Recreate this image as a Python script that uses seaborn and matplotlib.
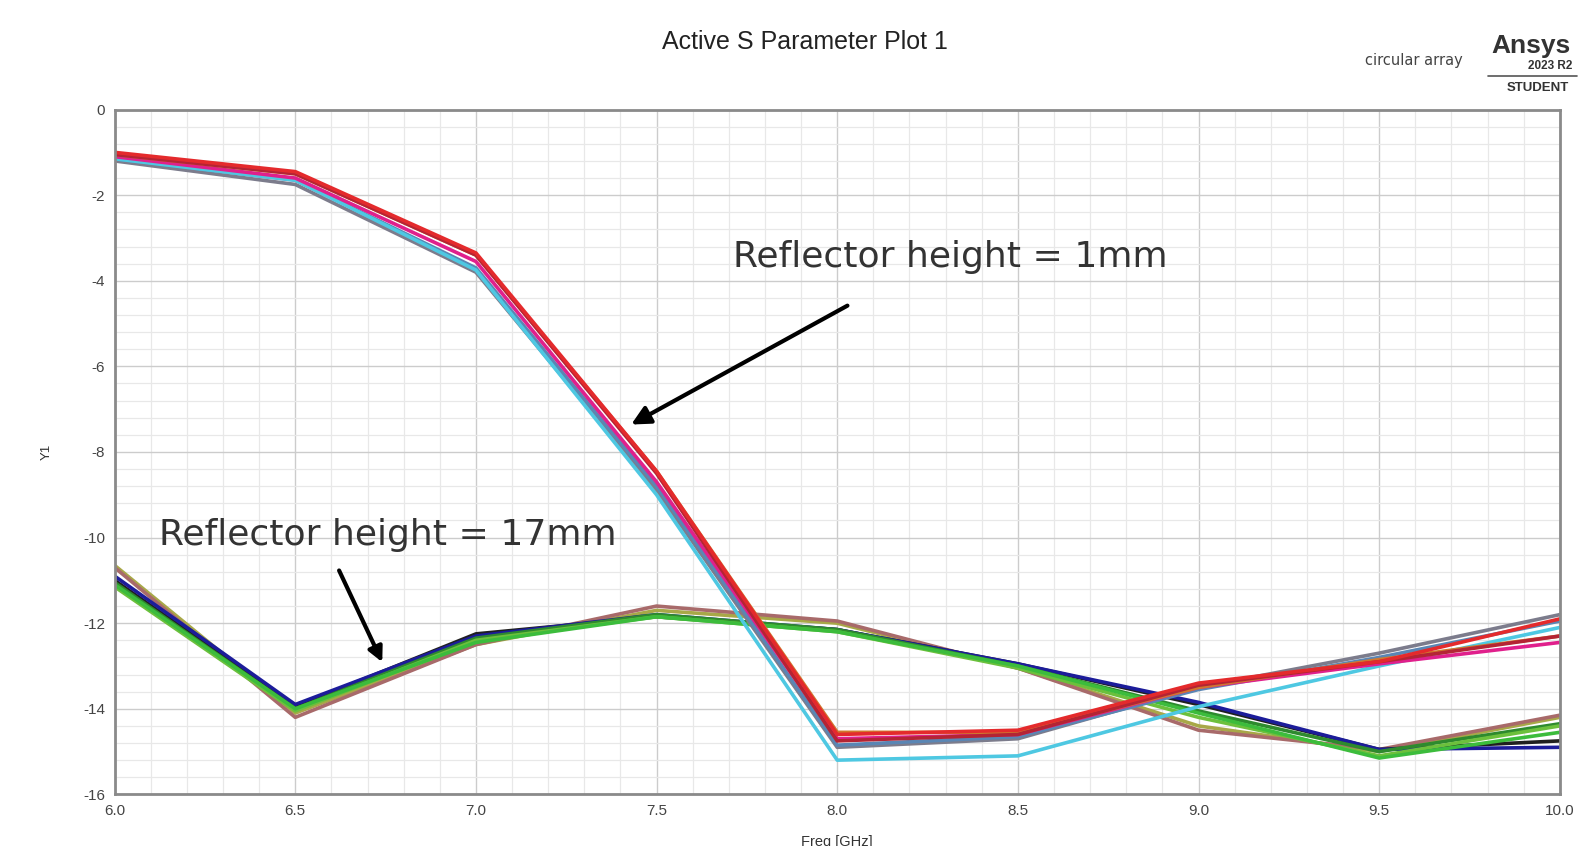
import numpy as np
import pandas as pd
import matplotlib
matplotlib.use('Agg')
import matplotlib.pyplot as plt
from matplotlib.ticker import MultipleLocator, FormatStrFormatter
import seaborn as sns

# frequency sweep [GHz]
freq = [6.0, 6.5, 7.0, 7.5, 8.0, 8.5, 9.0, 9.5, 10.0]

# reflector height = 1mm traces (active S, dB)
h1_red = [-1.0, -1.45, -3.35, -8.45, -14.6, -14.5, -13.4, -12.9, -11.9]
h1_darkred = [-1.05, -1.5, -3.4, -8.5, -14.75, -14.6, -13.45, -12.9, -12.3]
h1_orange = [-1.05, -1.5, -3.4, -8.45, -14.55, -14.55, -13.5, -12.85, -12.3]
h1_gray = [-1.2, -1.75, -3.8, -8.9, -14.9, -14.7, -13.5, -12.7, -11.8]
h1_steel = [-1.15, -1.65, -3.7, -8.8, -14.85, -14.65, -13.55, -12.8, -11.95]
h1_magenta = [-1.1, -1.6, -3.55, -8.7, -14.7, -14.6, -13.5, -12.95, -12.45]
h1_cyan = [-1.15, -1.65, -3.75, -9.0, -15.2, -15.1, -13.95, -13.0, -12.1]

# reflector height = 17mm traces
h17_olive = [-10.65, -14.1, -12.5, -11.7, -12.0, -13.05, -14.4, -15.0, -14.2]
h17_rose = [-10.7, -14.2, -12.5, -11.6, -11.95, -13.05, -14.5, -14.95, -14.15]
h17_black = [-11.0, -13.95, -12.25, -11.85, -12.15, -12.95, -13.9, -14.95, -14.75]
h17_darkblue = [-10.9, -13.9, -12.3, -11.8, -12.15, -12.95, -13.85, -14.95, -14.9]
h17_darkgreen = [-11.05, -14.0, -12.35, -11.8, -12.15, -13.0, -14.05, -15.0, -14.35]
h17_green = [-11.1, -14.0, -12.45, -11.85, -12.2, -13.0, -14.1, -15.15, -14.55]
h17_lime = [-11.15, -14.05, -12.4, -11.85, -12.2, -13.05, -14.2, -15.1, -14.4]

traces = {
    'h17_olive': (h17_olive, '#a8a848'),
    'h17_rose': (h17_rose, '#a86a6a'),
    'h17_black': (h17_black, '#202020'),
    'h17_darkblue': (h17_darkblue, '#1c1c9a'),
    'h17_darkgreen': (h17_darkgreen, '#2e8a2e'),
    'h17_lime': (h17_lime, '#6cc03c'),
    'h17_green': (h17_green, '#3cbc3c'),
    'h1_gray': (h1_gray, '#7c7c8c'),
    'h1_steel': (h1_steel, '#5a86b4'),
    'h1_cyan': (h1_cyan, '#4ec8e2'),
    'h1_magenta': (h1_magenta, '#e0208c'),
    'h1_orange': (h1_orange, '#d0782e'),
    'h1_darkred': (h1_darkred, '#b42434'),
    'h1_red': (h1_red, '#e42a2c'),
}

sns.set_style('white')
plt.rcParams['font.family'] = ['Liberation Sans', 'DejaVu Sans']

fig = plt.figure(figsize=(15.9, 8.46), dpi=100)
ax = fig.add_axes([0.0721, 0.061, 0.9089, 0.8095])

for name, (vals, col) in traces.items():
    df = pd.DataFrame({'freq': freq, 'y': vals})
    sns.lineplot(data=df, x='freq', y='y', ax=ax, color=col, linewidth=2.6,
                 legend=False)

ax.set_xlim(6.0, 10.0)
ax.set_ylim(-16, 0)
ax.xaxis.set_major_locator(MultipleLocator(0.5))
ax.xaxis.set_minor_locator(MultipleLocator(0.1))
ax.yaxis.set_major_locator(MultipleLocator(2))
ax.yaxis.set_minor_locator(MultipleLocator(0.4))
ax.xaxis.set_major_formatter(FormatStrFormatter('%.1f'))
ax.yaxis.set_major_formatter(FormatStrFormatter('%d'))

ax.grid(True, which='major', color='#cccccc', linewidth=1.0)
ax.grid(True, which='minor', color='#e8e8e8', linewidth=0.9)
ax.set_axisbelow(True)

for s in ax.spines.values():
    s.set_color('#8a8a8a')
    s.set_linewidth(2.0)

ax.tick_params(axis='both', which='major', direction='inout', length=10,
               width=1.2, color='#555555', labelsize=11, labelcolor='#444444',
               pad=2)
ax.tick_params(axis='both', which='minor', direction='out', length=4,
               width=1.2, color='#555555')

ax.set_xlabel('Freq [GHz]', fontsize=10.5, color='#333333', labelpad=12)
ax.set_ylabel('Y1', fontsize=9.5, color='#333333', labelpad=22)

# title and header texts
fig.text(0.506, 0.950, 'Active S Parameter Plot 1', ha='center', va='center',
         fontsize=18, color='#222222')
fig.text(0.889, 0.929, 'circular array', ha='center', va='center',
         fontsize=10.5, color='#444444', family='Liberation Sans Narrow')
fig.text(0.963, 0.946, 'Ansys', ha='center', va='center', fontsize=19,
         fontweight='bold', color='#333333')
fig.text(0.975, 0.922, '2023 R2', ha='center', va='center', fontsize=8.5,
         fontweight='bold', color='#333333')
fig.add_artist(plt.Line2D([0.936, 0.992], [0.910, 0.910], color='#555555',
                          linewidth=1.2))
fig.text(0.967, 0.896, 'STUDENT', ha='center', va='center', fontsize=9.5,
         fontweight='bold', color='#333333')

# annotations
ax.text(7.712, -3.45, 'Reflector height = 1mm', ha='left', va='center',
        fontsize=26, color='#333333', family='DejaVu Sans')
ax.annotate('', xy=(7.423, -7.39), xytext=(8.035, -4.55),
            arrowprops=dict(arrowstyle='-|>', color='black', lw=3,
                            mutation_scale=28))
ax.text(6.124, -9.93, 'Reflector height = 17mm', ha='left', va='center',
        fontsize=26, color='#333333', family='DejaVu Sans')
ax.annotate('', xy=(6.744, -12.97), xytext=(6.618, -10.71),
            arrowprops=dict(arrowstyle='-|>', color='black', lw=3,
                            mutation_scale=22))

fig.savefig('out.png', dpi=100)
